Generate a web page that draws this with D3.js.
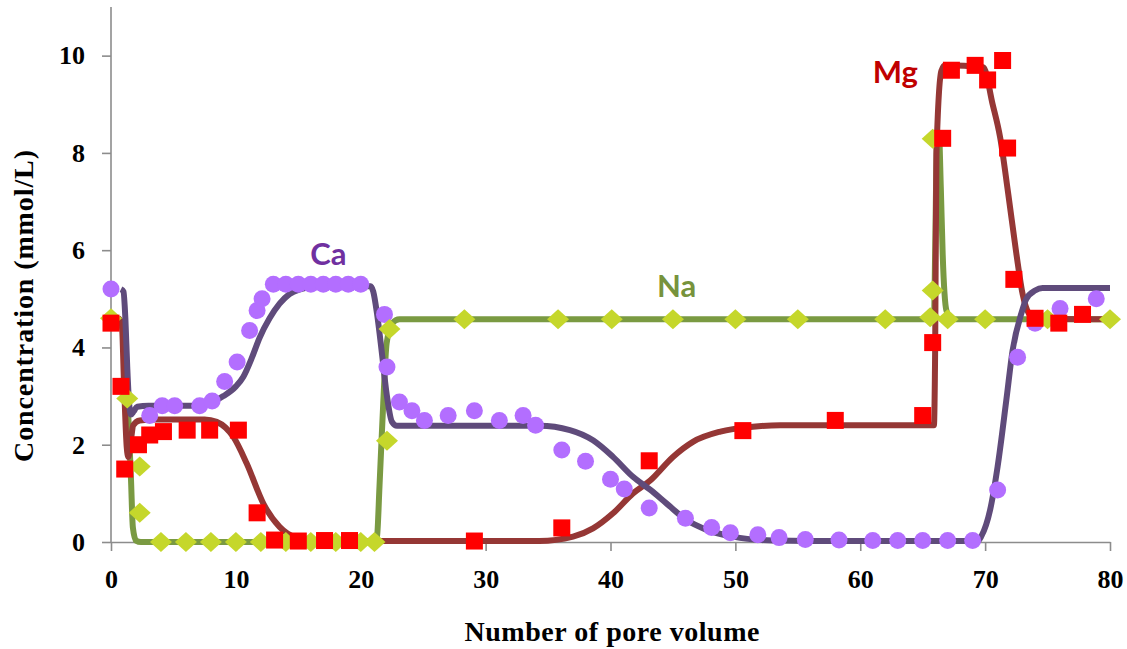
<!DOCTYPE html>
<html>
<head>
<meta charset="utf-8">
<script src="https://cdn.jsdelivr.net/npm/d3@7"></script>
<style>
  html, body { margin: 0; padding: 0; background: #fff; }
  svg { display: block; }
</style>
</head>
<body>
<svg id="chart" width="1127" height="649"></svg>
<script>
// ---------- data ----------
const xTicks = [0, 10, 20, 30, 40, 50, 60, 70, 80];
const yTicks = [0, 2, 4, 6, 8, 10];

// observed Ca (circles)
const caObs = [[0,5.2],[3.1,2.6],[4.1,2.8],[5.1,2.8],[7.1,2.8],[8.1,2.9],[9.1,3.3],[10.1,3.7],[11.1,4.35],[11.7,4.76],[12.1,5.0],
  [13,5.3],[14,5.3],[15,5.3],[16,5.3],[17,5.3],[18,5.3],[19,5.3],[20,5.3],
  [21.9,4.68],[22.1,3.6],[23.1,2.88],[24.1,2.7],[25.1,2.5],[27,2.6],[29.1,2.7],[31.1,2.5],[33,2.6],[34,2.4],
  [36.1,1.89],[38,1.66],[40,1.29],[41.1,1.09],[43.1,0.7],[46,0.49],[48.1,0.3],[49.6,0.19],[51.8,0.15],[53.5,0.09],
  [55.6,0.05],[58.3,0.04],[61,0.03],[63,0.03],[65,0.03],[67,0.03],[69,0.03],[71,1.07],[72.6,3.8],[74,4.5],[76,4.8],[78.9,5.0]];

// observed Mg (squares)
const mgObs = [[0,4.5],[0.8,3.2],[1.1,1.5],[2.2,2.0],[3.1,2.2],[4.2,2.27],[6.1,2.3],[7.9,2.3],[10.2,2.3],[11.7,0.6],
  [13.1,0.04],[15.0,0.02],[17.1,0.03],[19.1,0.03],[29.1,0.02],[36.1,0.29],[43.1,1.67],[50.6,2.29],[58,2.5],[65,2.6],
  [65.8,4.1],[66.6,8.3],[67.3,9.7],[69.2,9.8],[70.2,9.5],[71.4,9.9],[71.8,8.1],[72.3,5.4],[74,4.6],[75.9,4.5],[77.8,4.68]];

// observed Na (diamonds)
const naObs = [[0,4.6],[1.3,2.95],[2.3,1.55],[2.3,0.6],[4,0],[6,0],[8,0],[10,0],[12,0],[14,0],[16,0],[18,0],[20,0],[21.1,0],
  [22.1,2.08],[22.3,4.38],[28.3,4.58],[35.8,4.58],[40.1,4.58],[45,4.58],[50,4.58],[55,4.58],[62,4.58],[65.6,4.62],
  [65.8,5.17],[65.8,8.29],[67,4.58],[70,4.58],[75,4.58],[80,4.58]];

// model curves
const caModel = [[0.8,5.2],[1.0,5.15],[1.15,4.6],[1.3,3.6],[1.45,2.85],[1.6,2.62],[1.8,2.68],[2.1,2.78],[3,2.8],[7,2.8],
  [8,2.86],[9,3.0],[10,3.2],[10.6,3.4],[11.3,3.8],[11.9,4.2],[12.7,4.6],[13.5,4.9],[14.3,5.1],[15.2,5.2],[16.5,5.26],
  [20.8,5.26],[21.0,5.15],[21.3,4.7],[21.7,3.87],[22.07,3.05],[22.5,2.47],[22.9,2.39],[34.3,2.39],[36.75,2.3],[38.6,2.09],
  [40.2,1.75],[41.8,1.34],[43.2,1.07],[44.5,0.79],[46.1,0.45],[47.7,0.25],[49.8,0.11],[53,0.03],[56,0.02],[69.4,0.02],
  [69.7,0.12],[70.4,0.66],[71.0,1.55],[71.7,2.92],[72.2,3.94],[72.9,4.7],[73.3,5.0],[74.0,5.17],[74.6,5.22],[80,5.22]];

const mgModel = [[0.6,4.6],[0.86,4.5],[1.05,3.2],[1.26,1.95],[1.39,1.75],[1.6,2.1],[1.78,2.4],[2.3,2.5],[3.5,2.52],[7.5,2.52],
  [8.46,2.47],[9.8,2.16],[10.86,1.62],[12.2,0.79],[13.5,0.31],[14.9,0.08],[16.5,0.02],[34.3,0.02],[37.0,0.11],[38.6,0.28],
  [40.2,0.59],[41.8,1.0],[43.2,1.27],[45.0,1.75],[46.6,2.06],[48.8,2.27],[51.4,2.37],[53.6,2.4],[65.9,2.4],[66.0,4.0],
  [66.1,7.98],[66.5,9.69],[66.8,9.8],[69.85,9.76],[70.6,9.0],[71.2,8.32],[71.85,7.16],[72.5,5.93],[73.0,5.1],[73.5,4.7],
  [74.1,4.59],[80,4.58]];

const naModel = [[0.5,4.6],[0.9,4.4],[1.2,3.5],[1.4,2.5],[1.6,1.3],[1.75,0.3],[2.0,0.03],[2.4,0],[21.0,0],[21.3,0.11],
  [21.5,1.14],[21.8,2.85],[22.07,4.08],[22.5,4.49],[23.1,4.58],[65.9,4.58],[66.0,6.0],[66.15,8.3],[66.3,8.4],[66.45,7.3],
  [66.6,5.93],[66.9,4.76],[67.3,4.58],[80,4.58]];

// series labels (data coordinates of text baseline centre)
const labelText = ["Ca", "Na", "Mg"];
const labelPos = [[17.4, 5.69], [45.3, 5.03], [62.8, 9.44]];
const labelColor = ["#7030A0", "#77933C", "#C00000"];

// ---------- drawing ----------
const svg = d3.select("#chart");
const x = d3.scaleLinear().domain([0, 80]).range([111, 1110]);
const y = d3.scaleLinear().domain([0, 11]).range([542, 7]);

const serif = "'Liberation Serif', 'Times New Roman', serif";

// axes
const xAxis = svg.append("g").attr("transform", `translate(0,${y(0)})`)
  .call(d3.axisBottom(x).tickValues(xTicks).tickSize(9).tickPadding(19).tickSizeOuter(0));
const yAxis = svg.append("g").attr("transform", `translate(${x(0)},0)`)
  .call(d3.axisLeft(y).tickValues(yTicks).tickSize(9).tickPadding(17).tickSizeOuter(0));
[xAxis, yAxis].forEach(g => {
  g.selectAll("path.domain").attr("stroke", "#8c8c8c").attr("stroke-width", 1.6);
  g.selectAll(".tick line").attr("stroke", "#8c8c8c").attr("stroke-width", 1.6);
  g.selectAll(".tick text").attr("fill", "#000").attr("font-family", serif)
    .attr("font-weight", "bold").attr("font-size", 26);
});
// extend y axis line to top of domain
yAxis.select("path.domain").attr("d", `M0,${y(0)}V${y(11)}`);

// axis titles
svg.append("text").attr("x", 612).attr("y", 641)
  .attr("text-anchor", "middle").attr("font-family", serif).attr("font-weight", "bold")
  .attr("font-size", 28).attr("textLength", 295).attr("lengthAdjust", "spacing")
  .text("Number of pore volume");
svg.append("text").attr("transform", "translate(33,306) rotate(-90)")
  .attr("text-anchor", "middle").attr("font-family", serif).attr("font-weight", "bold")
  .attr("font-size", 28).attr("textLength", 312).attr("lengthAdjust", "spacing")
  .text("Concentration (mmol/L)");

// model lines
const line = d3.line().x(d => x(d[0])).y(d => y(d[1])).curve(d3.curveMonotoneX);
const lines = [[naModel, "#7A9A42"], [mgModel, "#953735"], [caModel, "#5F4B7B"]];
lines.forEach(([data, col]) => {
  svg.append("path").datum(data).attr("d", line)
    .attr("fill", "none").attr("stroke", col).attr("stroke-width", 6)
    .attr("stroke-linejoin", "round").attr("stroke-linecap", "butt");
});

// markers
svg.append("g").selectAll("circle").data(caObs).join("circle")
  .attr("cx", d => x(d[0])).attr("cy", d => y(d[1])).attr("r", 8.5).attr("fill", "#B36EFF");
svg.append("g").selectAll("path").data(naObs).join("path")
  .attr("d", d => { const cx = x(d[0]), cy = y(d[1]);
    return `M${cx - 11},${cy}L${cx},${cy - 10}L${cx + 11},${cy}L${cx},${cy + 10}Z`; })
  .attr("fill", "#C5D72B");
svg.append("g").selectAll("rect").data(mgObs).join("rect")
  .attr("x", d => x(d[0]) - 8.5).attr("y", d => y(d[1]) - 8.5)
  .attr("width", 17).attr("height", 17).attr("fill", "#FF0000");

// series labels
svg.append("g").selectAll("text").data(labelText).join("text")
  .attr("x", (d, i) => x(labelPos[i][0])).attr("y", (d, i) => y(labelPos[i][1]))
  .attr("text-anchor", "middle").attr("font-family", "Lato, 'Open Sans', sans-serif")
  .attr("font-weight", "bold").attr("font-size", 31)
  .attr("fill", (d, i) => labelColor[i]).text(d => d);
</script>
</body>
</html>
